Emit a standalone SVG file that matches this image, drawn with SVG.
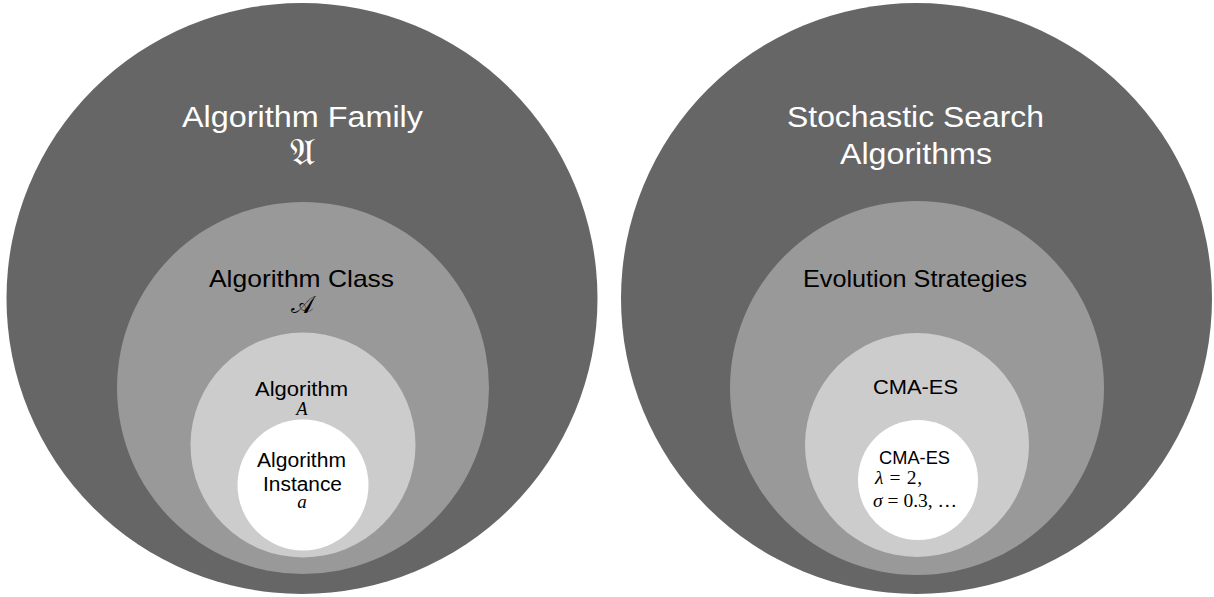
<svg xmlns="http://www.w3.org/2000/svg" width="1214" height="597" viewBox="0 0 1214 597">
  <style>
    .l1 { fill: #666666; }
    .l2 { fill: #999999; }
    .l3 { fill: #cccccc; }
    .l4 { fill: #ffffff; }
    .t { font-family: "Liberation Sans", Arial, sans-serif; text-anchor: middle; }
    .w { fill: #ffffff; }
    .k { fill: #000000; }
    .m { font-family: "Liberation Serif", "DejaVu Serif", serif; font-style: italic; text-anchor: middle; }
    .mr { font-family: "Liberation Serif", "DejaVu Serif", serif; }
  </style>
  <rect x="0" y="0" width="1214" height="597" fill="#ffffff"/>

  <g id="algorithm-family">
    <circle class="l1" cx="302" cy="298.5" r="295.5"/>
    <text class="t w" x="302.5" y="127" font-size="29" textLength="241" lengthAdjust="spacingAndGlyphs">Algorithm Family</text>
    <text class="w" x="302" y="165" font-size="38" text-anchor="middle" font-family="'DejaVu Serif', 'Noto Sans', serif">𝔄</text>
  </g>
  <g id="algorithm-class">
    <circle class="l2" cx="303" cy="388" r="186"/>
    <text class="t k" x="301.5" y="287" font-size="24" textLength="185" lengthAdjust="spacingAndGlyphs">Algorithm Class</text>
    <text class="k" x="302" y="313" font-size="24" text-anchor="middle" font-family="'DejaVu Serif', 'Noto Sans', serif">𝒜</text>
  </g>
  <g id="algorithm">
    <circle class="l3" cx="303" cy="445" r="112.5"/>
    <text class="t k" x="301.5" y="396" font-size="20" textLength="93" lengthAdjust="spacingAndGlyphs">Algorithm</text>
    <text class="m k" x="302" y="415" font-size="18.5">A</text>
  </g>
  <g id="algorithm-instance">
    <circle class="l4" cx="303" cy="485" r="65.5"/>
    <text class="t k" x="301.5" y="466.5" font-size="19.5" textLength="89" lengthAdjust="spacingAndGlyphs">Algorithm</text>
    <text class="t k" x="302.5" y="490.5" font-size="19.5" textLength="79" lengthAdjust="spacingAndGlyphs">Instance</text>
    <text class="m k" x="302" y="507.5" font-size="19">a</text>
  </g>

  <g id="stochastic-search">
    <circle class="l1" cx="916.5" cy="298.5" r="295.5"/>
    <text class="t w" x="915.5" y="127" font-size="29" textLength="257" lengthAdjust="spacingAndGlyphs">Stochastic Search</text>
    <text class="t w" x="916" y="164" font-size="29" textLength="152" lengthAdjust="spacingAndGlyphs">Algorithms</text>
  </g>
  <g id="evolution-strategies">
    <circle class="l2" cx="917" cy="388" r="187"/>
    <text class="t k" x="915" y="286.7" font-size="24" textLength="224" lengthAdjust="spacingAndGlyphs">Evolution Strategies</text>
  </g>
  <g id="cma-es">
    <circle class="l3" cx="917" cy="445" r="112"/>
    <text class="t k" x="915.5" y="394.3" font-size="21" textLength="85" lengthAdjust="spacingAndGlyphs">CMA-ES</text>
  </g>
  <g id="cma-es-instance">
    <circle class="l4" cx="918" cy="480" r="60"/>
    <text class="t k" x="914.5" y="464" font-size="18" textLength="71" lengthAdjust="spacingAndGlyphs">CMA-ES</text>
    <text class="mr k" x="875" y="484" font-size="19.5" textLength="47" lengthAdjust="spacing"><tspan font-style="italic">λ</tspan> = 2,</text>
    <text class="mr k" x="873" y="507" font-size="19.5" textLength="84" lengthAdjust="spacing"><tspan font-style="italic">σ</tspan> = 0.3, …</text>
  </g>
</svg>
